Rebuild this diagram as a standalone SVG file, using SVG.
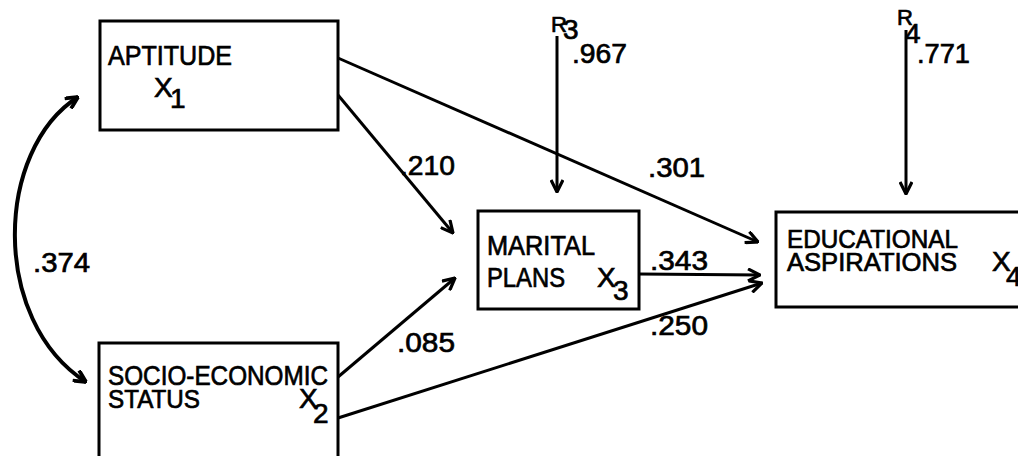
<svg xmlns="http://www.w3.org/2000/svg" width="1018" height="456" viewBox="0 0 1018 456">
<defs>
<marker id="ah" viewBox="0 0 14 14" refX="13" refY="7" markerWidth="14" markerHeight="14" markerUnits="userSpaceOnUse" orient="auto">
<path d="M1,1 L13,7 L1,13" fill="none" stroke="#000" stroke-width="3.2" stroke-linejoin="miter"/>
</marker>
<marker id="ahs" viewBox="0 0 14 14" refX="13" refY="7" markerWidth="14" markerHeight="14" markerUnits="userSpaceOnUse" orient="auto-start-reverse">
<path d="M1,1 L13,7 L1,13" fill="none" stroke="#000" stroke-width="3.8"/>
</marker>
<style>
.box{fill:#fff;stroke:#000;stroke-width:3}
.t{font-family:"Liberation Sans",Arial,sans-serif;font-size:28px;fill:#000;stroke:#000;stroke-width:0.7}
.s{font-size:26px}
.c{fill:none;stroke:#000;stroke-width:3}
</style>
</defs>
<rect width="1018" height="456" fill="#fff"/>
<g id="connectors">
<path class="c" d="M557,36 L557,192" marker-end="url(#ah)"/>
<path class="c" d="M906,30 L906,194" marker-end="url(#ah)"/>
<path class="c" d="M338,58 L758,242" marker-end="url(#ah)"/>
<path class="c" d="M338,95 L453,233" marker-end="url(#ah)"/>
<path class="c" d="M338,377 L455,278" marker-end="url(#ah)"/>
<path class="c" d="M639,274 L760,275" marker-end="url(#ah)"/>
<path class="c" d="M338,418 L762,283" marker-end="url(#ah)"/>
<path class="c" style="stroke-width:4" d="M78,97 C-5,150 -10,320 86,382" marker-start="url(#ahs)" marker-end="url(#ahs)"/>
</g>
<g id="labels">
<text class="t" x="33" y="272" textLength="57" lengthAdjust="spacingAndGlyphs">.374</text>
<text class="t" x="400" y="175" textLength="55" lengthAdjust="spacingAndGlyphs">.210</text>
<text class="t" x="648" y="177" textLength="57" lengthAdjust="spacingAndGlyphs">.301</text>
<text class="t" x="650" y="270" textLength="58" lengthAdjust="spacingAndGlyphs">.343</text>
<text class="t" x="397" y="352" textLength="58" lengthAdjust="spacingAndGlyphs">.085</text>
<text class="t" x="650" y="335" textLength="58" lengthAdjust="spacingAndGlyphs">.250</text>
<text class="t" x="572" y="63" textLength="55" lengthAdjust="spacingAndGlyphs">.967</text>
<text class="t" x="917" y="63" textLength="53" lengthAdjust="spacingAndGlyphs">.771</text>
</g>
<g id="R3">
<text class="t" x="551" y="32"><tspan style="font-size:22px">R</tspan><tspan x="563" y="39">3</tspan></text>
</g>
<g id="R4">
<text class="t" x="897" y="25"><tspan style="font-size:22px">R</tspan><tspan x="905" y="43">4</tspan></text>
</g>
<g id="aptitude">
<rect class="box" x="100" y="21" width="238" height="109"/>
<text class="t" x="108" y="65" textLength="124" lengthAdjust="spacingAndGlyphs">APTITUDE</text>
<text class="t" x="154" y="97">X<tspan x="170" y="108">1</tspan></text>
</g>
<g id="ses">
<rect class="box" x="99" y="343" width="239" height="120"/>
<text class="t" x="108" y="385" textLength="220" lengthAdjust="spacingAndGlyphs">SOCIO-ECONOMIC</text>
<text class="t s" x="108" y="408" textLength="92" lengthAdjust="spacingAndGlyphs">STATUS</text>
<text class="t" x="299" y="408">X<tspan x="313" y="423">2</tspan></text>
</g>
<g id="marital">
<rect class="box" x="478" y="211" width="161" height="98"/>
<text class="t" x="487" y="255" textLength="108" lengthAdjust="spacingAndGlyphs">MARITAL</text>
<text class="t" x="487" y="287" textLength="78" lengthAdjust="spacingAndGlyphs">PLANS</text>
<text class="t" x="597" y="287">X<tspan x="613" y="300">3</tspan></text>
</g>
<g id="educational">
<rect class="box" x="776" y="212" width="260" height="95"/>
<text class="t s" x="787" y="248" textLength="171" lengthAdjust="spacingAndGlyphs">EDUCATIONAL</text>
<text class="t s" x="787" y="271" textLength="170" lengthAdjust="spacingAndGlyphs">ASPIRATIONS</text>
<text class="t" x="992" y="271">X<tspan x="1006" y="286">4</tspan></text>
</g>
</svg>
